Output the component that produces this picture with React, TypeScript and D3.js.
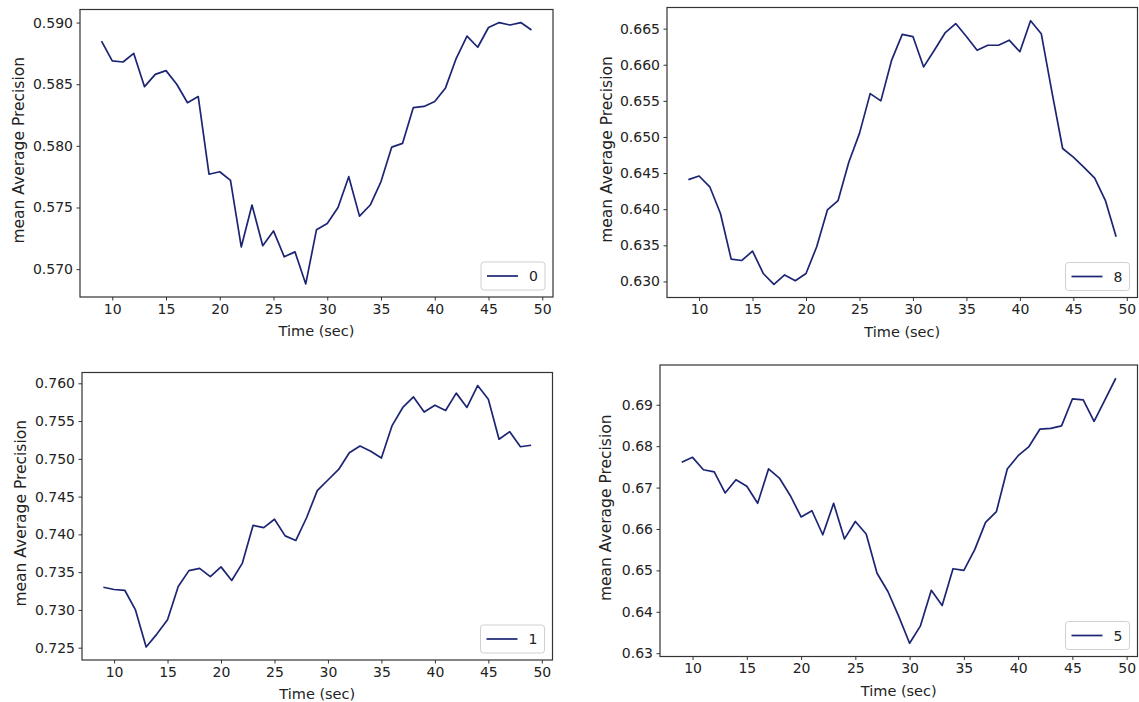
import React, { useEffect, useRef } from "react";
import * as d3 from "d3";

// time axis, seconds
const timeSec = [9, 10, 11, 12, 13, 14, 15, 16, 17, 18, 19, 20, 21, 22, 23, 24, 25, 26, 27, 28, 29,
  30, 31, 32, 33, 34, 35, 36, 37, 38, 39, 40, 41, 42, 43, 44, 45, 46, 47, 48, 49];

// mean average precision per class
const map0 = [0.5885, 0.5869, 0.5868, 0.5875, 0.5848, 0.5858, 0.5861, 0.5850, 0.5835, 0.5840, 0.5777,
  0.5779, 0.5772, 0.5718, 0.5752, 0.5719, 0.5731, 0.5710, 0.5714, 0.5688, 0.5732, 0.5737, 0.5750,
  0.5775, 0.5743, 0.5752, 0.5771, 0.5799, 0.5802, 0.5831, 0.5832, 0.5836, 0.5847, 0.5871, 0.5889,
  0.5880, 0.5896, 0.5900, 0.5898, 0.5900, 0.5894];
const map8 = [0.6441, 0.6446, 0.6431, 0.6394, 0.6331, 0.6329, 0.6342, 0.6311, 0.6296, 0.6309, 0.6301,
  0.6311, 0.6348, 0.6399, 0.6412, 0.6465, 0.6505, 0.6560, 0.6550, 0.6606, 0.6642, 0.6639, 0.6597,
  0.6620, 0.6644, 0.6657, 0.6639, 0.6620, 0.6627, 0.6627, 0.6634, 0.6618, 0.6661, 0.6643, 0.6562,
  0.6484, 0.6472, 0.6458, 0.6443, 0.6412, 0.6362];
const map1 = [0.7330, 0.7327, 0.7326, 0.7300, 0.7251, 0.7268, 0.7287, 0.7331, 0.7352, 0.7355, 0.7344,
  0.7357, 0.7339, 0.7362, 0.7412, 0.7409, 0.7420, 0.7398, 0.7392, 0.7422, 0.7458, 0.7472, 0.7486,
  0.7508, 0.7517, 0.7510, 0.7501, 0.7544, 0.7568, 0.7582, 0.7562, 0.7571, 0.7564, 0.7587, 0.7568,
  0.7597, 0.7579, 0.7526, 0.7536, 0.7516, 0.7518];
const map5 = [0.6761, 0.6773, 0.6743, 0.6738, 0.6687, 0.6719, 0.6703, 0.6662, 0.6745, 0.6723, 0.6681,
  0.6629, 0.6644, 0.6586, 0.6662, 0.6576, 0.6618, 0.6588, 0.6493, 0.6449, 0.6389, 0.6324, 0.6366,
  0.6452, 0.6415, 0.6504, 0.6500, 0.6550, 0.6616, 0.6642, 0.6745, 0.6777, 0.6799, 0.6841, 0.6843,
  0.6849, 0.6914, 0.6912, 0.6860, 0.6912, 0.6964];

const xTicks = [10, 15, 20, 25, 30, 35, 40, 45, 50];
const yTicks0 = [0.570, 0.575, 0.580, 0.585, 0.590];
const yTicks8 = [0.630, 0.635, 0.640, 0.645, 0.650, 0.655, 0.660, 0.665];
const yTicks1 = [0.725, 0.730, 0.735, 0.740, 0.745, 0.750, 0.755, 0.760];
const yTicks5 = [0.63, 0.64, 0.65, 0.66, 0.67, 0.68, 0.69];

const panels = [
  { name: "0", values: map0, yTicks: yTicks0, fmt: ".3f", l: 80, r: 553, t: 9.5, b: 297, labelX: 18 },
  { name: "8", values: map8, yTicks: yTicks8, fmt: ".3f", l: 667, r: 1137.5, t: 7.5, b: 297.5, labelX: 606 },
  { name: "1", values: map1, yTicks: yTicks1, fmt: ".3f", l: 82, r: 552.5, t: 372.5, b: 660, labelX: 20 },
  { name: "5", values: map5, yTicks: yTicks5, fmt: ".2f", l: 660, r: 1137.5, t: 365, b: 656.5, labelX: 605 },
];

const font = "'DejaVu Sans', sans-serif";
const lineColor = "#1c2573";
const spine = "#333";

export default function App() {
  const ref = useRef<SVGSVGElement>(null);

  useEffect(() => {
    const svg = d3.select(ref.current);
    svg.selectAll("*").remove();

    panels.forEach((p) => {
      const [x0, x1] = d3.extent(timeSec) as [number, number];
      const xPad = (x1 - x0) * 0.05;
      const x = d3.scaleLinear().domain([x0 - xPad, x1 + xPad]).range([p.l, p.r]);
      const [y0, y1] = d3.extent(p.values) as [number, number];
      const yPad = (y1 - y0) * 0.05;
      const y = d3.scaleLinear().domain([y0 - yPad, y1 + yPad]).range([p.b, p.t]);

      const g = svg.append("g");

      // line
      const line = d3.line<number>()
        .x((d, i) => x(timeSec[i]))
        .y((d) => y(d));
      g.append("path")
        .attr("d", line(p.values))
        .attr("fill", "none")
        .attr("stroke", lineColor)
        .attr("stroke-width", 1.7)
        .attr("stroke-linejoin", "round");

      // axes
      const xAxis = d3.axisBottom(x).tickValues(xTicks).tickSize(3.5).tickPadding(3.5).tickFormat(d3.format("d"));
      const yAxis = d3.axisLeft(y).tickValues(p.yTicks).tickSize(3.5).tickPadding(3.5).tickFormat(d3.format(p.fmt));

      const xg = g.append("g").attr("transform", `translate(0,${p.b})`).call(xAxis);
      const yg = g.append("g").attr("transform", `translate(${p.l},0)`).call(yAxis);
      [xg, yg].forEach((a) => {
        a.select(".domain").remove();
        a.selectAll("line").attr("stroke", spine);
        a.selectAll("text").attr("fill", "#222").style("font-family", font).style("font-size", "14px");
      });

      // frame
      g.append("rect")
        .attr("x", p.l).attr("y", p.t)
        .attr("width", p.r - p.l).attr("height", p.b - p.t)
        .attr("fill", "none").attr("stroke", spine).attr("stroke-width", 1.2);

      // labels
      g.append("text")
        .attr("x", (p.l + p.r) / 2).attr("y", p.b + 39)
        .attr("text-anchor", "middle")
        .style("font-family", font).style("font-size", "14.5px").attr("fill", "#222")
        .text("Time (sec)");
      g.append("text")
        .attr("transform", `translate(${p.labelX + 5.5},${(p.t + p.b) / 2 - 3}) rotate(-90)`)
        .attr("text-anchor", "middle")
        .style("font-family", font).style("font-size", "15.5px").attr("fill", "#222")
        .text("mean Average Precision");

      // legend (lower right)
      const lw = 64, lh = 28;
      const lx = p.r - 8 - lw, ly = p.b - 7 - lh;
      g.append("rect")
        .attr("x", lx).attr("y", ly).attr("width", lw).attr("height", lh)
        .attr("rx", 3).attr("fill", "white").attr("fill-opacity", 0.8)
        .attr("stroke", "#d0d0d0");
      g.append("line")
        .attr("x1", lx + 6).attr("x2", lx + 37)
        .attr("y1", ly + lh / 2).attr("y2", ly + lh / 2)
        .attr("stroke", lineColor).attr("stroke-width", 1.7);
      g.append("text")
        .attr("x", lx + 48).attr("y", ly + lh / 2 + 5)
        .style("font-family", font).style("font-size", "14px").attr("fill", "#222")
        .text(p.name);
    });
  }, []);

  return (
    <svg ref={ref} width={1139} height={702}
      style={{ position: "absolute", left: 0, top: 0, background: "white" }} />
  );
}
